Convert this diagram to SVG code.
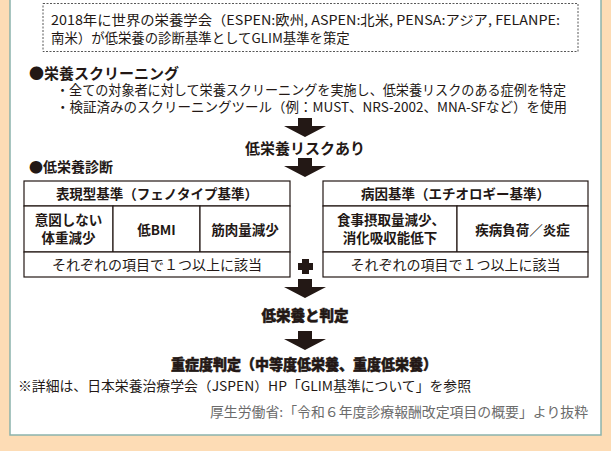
<svg xmlns="http://www.w3.org/2000/svg" width="611" height="451" viewBox="0 0 611 451">
<style>
text{font-family:"Noto Sans CJK JP","Noto Sans",sans-serif;fill:#231815}
.n{font-size:13.4px}
.cb{font-size:13.5px;font-weight:bold}
.r{font-size:14px}
.h{font-size:15px;font-weight:bold}
.hv{font-size:14.5px;font-weight:900;stroke:#231815;stroke-width:0.5}
.c{text-anchor:middle}
.cell{fill:#fff;stroke:#231815;stroke-width:1.2}
.arr{fill:#231815}
</style>
<defs>
<path id="arrow" d="M-7,0 H7 V8 H21 L0,19 L-21,8 H-7 Z"/>
</defs>
<rect x="0" y="0" width="611" height="451" fill="#FDDCB5"/>
<rect x="10" y="-3" width="591" height="438" fill="#fff" stroke="#8BB3AC" stroke-width="1.5"/>

<g id="intro">
<rect x="43" y="3.5" width="535" height="48" fill="#fff" stroke="#444" stroke-width="0.9" stroke-dasharray="2,1.5"/>
<text class="n" x="51" y="25" textLength="509" lengthAdjust="spacingAndGlyphs">2018年に世界の栄養学会（ESPEN:欧州, ASPEN:北米, PENSA:アジア, FELANPE:</text>
<text class="n" x="51" y="43">南米）が低栄養の診断基準としてGLIM基準を策定</text>
</g>

<g id="screening">
<text class="h" x="29" y="78.5">●栄養スクリーニング</text>
<text class="n" x="56" y="95" textLength="510" lengthAdjust="spacingAndGlyphs">・全ての対象者に対して栄養スクリーニングを実施し、低栄養リスクのある症例を特定</text>
<text class="n" x="56" y="111.5" textLength="511" lengthAdjust="spacingAndGlyphs">・検証済みのスクリーニングツール（例：MUST、NRS-2002、MNA-SFなど）を使用</text>
</g>

<g id="connectors">
<use href="#arrow" class="arr" x="305" y="118"/>
<use href="#arrow" class="arr" x="305" y="158"/>
<use href="#arrow" class="arr" x="305" y="279"/>
<use href="#arrow" class="arr" x="305" y="331"/>
<path class="arr" d="M302,259 H309 V263 H313 V270 H309 V274 H302 V270 H298 V263 H302 Z"/>
</g>

<g id="risk">
<text class="h c" x="305" y="153.5">低栄養リスクあり</text>
</g>

<g id="diagnosis">
<text class="h" x="29" y="171.5" style="font-size:14px">●低栄養診断</text>
</g>

<g id="phenotype">
<rect class="cell" x="24" y="181" width="266" height="25"/>
<rect class="cell" x="24" y="206" width="89" height="46"/>
<rect class="cell" x="113" y="206" width="87" height="46"/>
<rect class="cell" x="200" y="206" width="90" height="46"/>
<rect class="cell" x="24" y="252" width="266" height="25"/>
<text class="cb c" x="157" y="198.5">表現型基準（フェノタイプ基準）</text>
<text class="cb c" x="68.5" y="225">意図しない</text>
<text class="cb c" x="68.5" y="243">体重減少</text>
<text class="cb c" x="156.5" y="235">低BMI</text>
<text class="cb c" x="245" y="235">筋肉量減少</text>
<text class="r c" x="157" y="269.5">それぞれの項目で１つ以上に該当</text>
</g>

<g id="etiology">
<rect class="cell" x="323" y="181" width="265" height="25"/>
<rect class="cell" x="323" y="206" width="134" height="46"/>
<rect class="cell" x="457" y="206" width="131" height="46"/>
<rect class="cell" x="323" y="252" width="265" height="25"/>
<text class="cb c" x="455.5" y="198.5">病因基準（エチオロギー基準）</text>
<text class="cb c" x="391" y="225">食事摂取量減少、</text>
<text class="cb c" x="390" y="243">消化吸収能低下</text>
<text class="cb c" x="522.5" y="235">疾病負荷／炎症</text>
<text class="r c" x="455.5" y="269.5">それぞれの項目で１つ以上に該当</text>
</g>

<g id="result">
<text class="hv c" x="305" y="321">低栄養と判定</text>
</g>

<g id="severity">
<text class="hv c" x="304" y="369.5" textLength="266" lengthAdjust="spacingAndGlyphs">重症度判定（中等度低栄養、重度低栄養）</text>
</g>

<g id="notes">
<text class="n" x="18" y="391" textLength="453" lengthAdjust="spacingAndGlyphs">※詳細は、日本栄養治療学会（JSPEN）HP「GLIM基準について」を参照</text>
<text class="n" x="588" y="417" textLength="378" lengthAdjust="spacingAndGlyphs" style="text-anchor:end;fill:#6b6b6b">厚生労働省:「令和６年度診療報酬改定項目の概要」より抜粋</text>
</g>
</svg>
